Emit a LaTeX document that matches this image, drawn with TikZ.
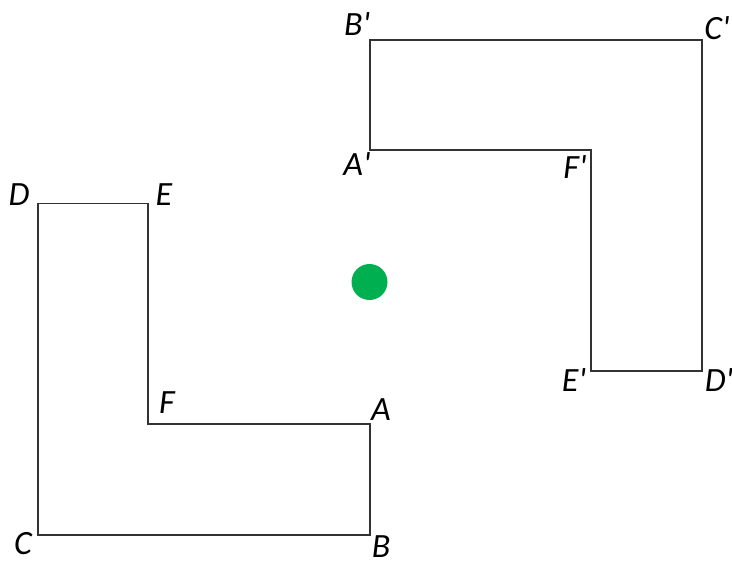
\documentclass[tikz,border=0pt]{standalone}
\usepackage{fontspec}
\setmainfont{Carlito}
\definecolor{verde}{HTML}{00B050}
\begin{document}
\begin{tikzpicture}[x=0.5pt, y=-0.5pt,
		contorno/.style={line width=0.8pt, line join=miter, black!80},
		centro/.style={circle, fill=verde, draw=none, inner sep=0pt, minimum size=18pt},
		etich/.style={font=\fontsize{17}{19}\selectfont\itshape, inner sep=0pt},
		]
	\useasboundingbox (0,0) rectangle (732,561);
	
	%% =========================================================
	%% figura di partenza ABCDEF
	%% =========================================================
	\foreach \p/\x/\y in {A/370/424, B/370/535, C/38/535, D/38/203.5, E/148/203.5, F/148/424}
	\coordinate (\p) at (\x,\y);
	\draw[contorno](A)--(B)--(C)--(D)--(E)--(F)--cycle;
	
	%% =========================================================
	%% figura ruotata A'B'C'D'E'F'
	%% =========================================================
	\foreach \p/\x/\y in {A1/370/150, B1/370/40, C1/702/40, D1/702/371, E1/591/371, F1/591/150}
	\coordinate (\p) at (\x,\y);
	\draw[contorno](A1)--(B1)--(C1)--(D1)--(E1)--(F1)--cycle;
	
	%% centro di rotazione
	\node[centro](O) at (369.5,282){};
	
	%% etichette dei vertici
	\node[etich](lA) at (381,410){A};
	\node[etich](lB) at (381,547){B};
	\node[etich](lC) at (23,544){C};
	\node[etich](lD) at (19,195){D};
	\node[etich](lE) at (164,195){E};
	\node[etich](lF) at (167,403){F};
	\node[etich](lA1) at (357,164){A\textquotesingle};
	\node[etich](lB1) at (357,24){B\textquotesingle};
	\node[etich](lC1) at (717,28){C\textquotesingle};
	\node[etich](lD1) at (719,380){D\textquotesingle};
	\node[etich](lE1) at (574,380){E\textquotesingle};
	\node[etich](lF1) at (575,167){F\textquotesingle};
\end{tikzpicture}
\end{document}
